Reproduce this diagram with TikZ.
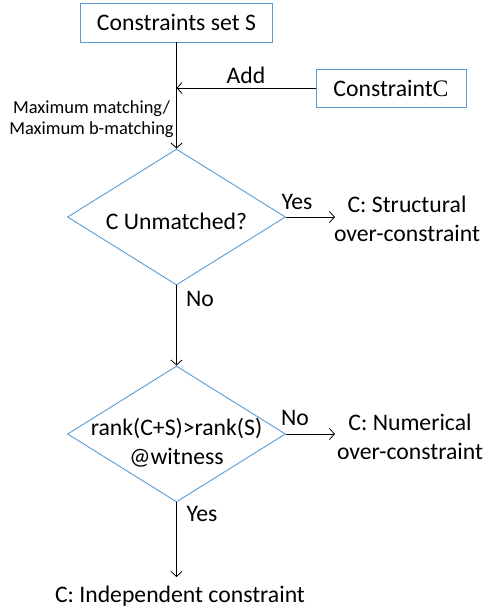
\documentclass[tikz,border=0pt]{standalone}
\usepackage{fontspec}
\setmainfont{Carlito}
\newfontfamily\serifC{Liberation Serif}
\usepackage{tikz}
\usetikzlibrary{shapes.geometric}
\usetikzlibrary{arrows.meta}
\definecolor{boxblue}{HTML}{5B9BD5}
\tikzstyle{blockbox}=[draw=boxblue, line width=0.9pt, inner sep=0pt]
\tikzstyle{decision}=[diamond, draw=boxblue, line width=0.9pt, inner sep=0pt, minimum width=218pt, minimum height=136pt]
\tikzstyle{txt}=[inner sep=0pt, align=center, font=\fontsize{23.7}{29}\selectfont]
\tikzstyle{small}=[inner sep=0pt, align=center, font=\fontsize{18.4}{21.5}\selectfont]
\tikzstyle{flow}=[->, line width=0.8pt]

\begin{document}
\begin{tikzpicture}[x=1pt, y=-1pt, >={Straight Barb[length=5pt,width=11pt]}]
\useasboundingbox (0,0) rectangle (487,611);
\node[blockbox, minimum width=192pt, minimum height=39pt, font=\fontsize{23.7}{29}\selectfont] (set) at (176.5,22.5) {Constraints set S};
\node[blockbox, minimum width=150pt, minimum height=38pt, font=\fontsize{23.7}{29}\selectfont] (cons) at (391,88) {Constraint{\serifC C}};
\coordinate (join) at (176.5,88);
\node[decision] (unm) at (176.5,217) {};
\node[txt] (unmtxt) at (176.5,221) {C Unmatched?};
\node[decision] (rank) at (176.5,434) {};
\node[txt] (ranktxt) at (176.5,443) {rank(C+S)>rank(S)\\@witness};
\coordinate (structend) at (335,217);
\coordinate (numend) at (335,434);
\coordinate (independ) at (176.5,577);
\node[txt] (struct) at (407,219) {C: Structural\\over-constraint};
\node[txt] (num) at (410,437) {C: Numerical\\over-constraint};
\node[txt] (indep) at (180,596) {C: Independent constraint};

% connectors
\draw[line width=0.8pt] (set) -- (join);
\draw[flow] (cons) -- node[txt, above=4pt] {Add} (join);
\draw[flow] (join) -- (unm.north);
\node[small] (matchtxt) at (91.5,119) {Maximum matching/\\Maximum b-matching};
\draw[flow] (unm.east) -- (structend);
\node[txt] (yes1) at (297,202) {Yes};
\draw[flow] (unm.south) -- (rank.north);
\node[txt] (no1) at (200,299) {No};
\draw[flow] (rank.east) -- (numend);
\node[txt] (no2) at (295,418) {No};
\draw[flow] (rank.south) -- (independ);
\node[txt] (yes2) at (202,514) {Yes};
\end{tikzpicture}
\end{document}
